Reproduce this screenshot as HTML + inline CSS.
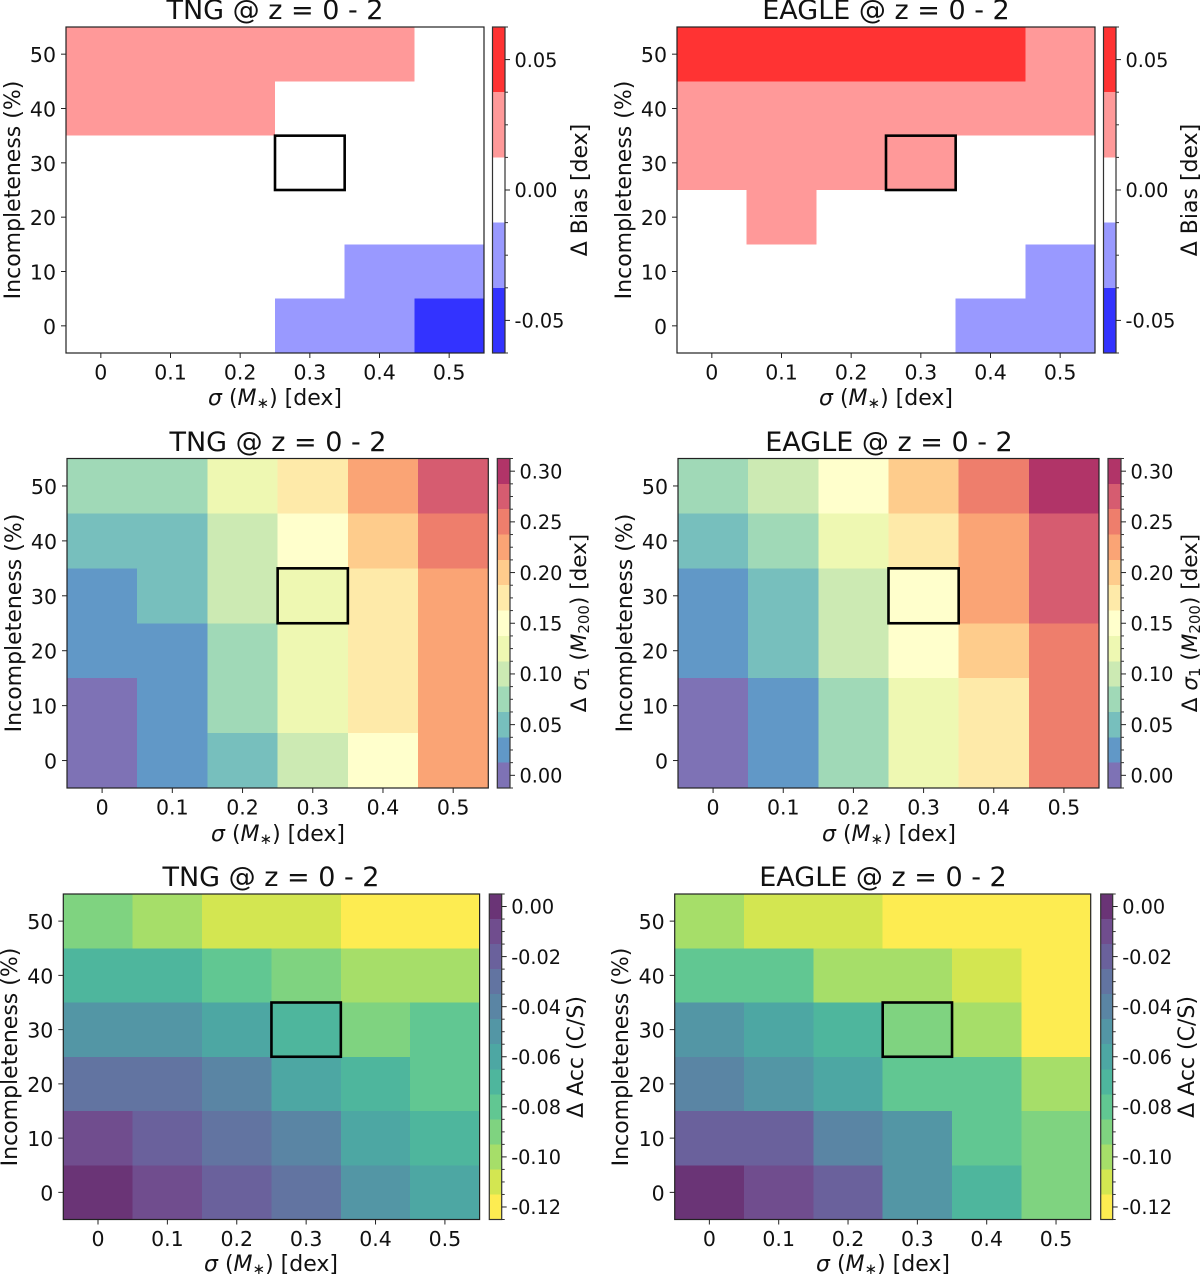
<!DOCTYPE html>
<html>
<head>
<meta charset="utf-8">
<title>Heatmaps of bias, scatter and accuracy</title>
<style>
html,body{margin:0;padding:0;background:#fff;width:1200px;height:1275px;overflow:hidden}
svg{display:block}
text{font-family:"DejaVu Sans","Liberation Sans",sans-serif;fill:#111}
.title{font-size:27px;text-anchor:middle}
.axl{font-size:22px;text-anchor:middle}
.cbl{font-size:22px;text-anchor:middle}
.it{font-style:italic}
</style>
</head>
<body>
<svg id="fig" xmlns="http://www.w3.org/2000/svg" width="1200" height="1275" viewBox="0 0 1200 1275">
  <rect width="1200" height="1275" fill="#fff"/>
  <g id="marks"></g>

  <text class="title" x="275" y="19">TNG @ z = 0 - 2</text>
  <text class="title" x="886" y="19">EAGLE @ z = 0 - 2</text>
  <text class="title" x="278" y="451">TNG @ z = 0 - 2</text>
  <text class="title" x="889" y="451">EAGLE @ z = 0 - 2</text>
  <text class="title" x="271" y="886">TNG @ z = 0 - 2</text>
  <text class="title" x="883" y="886">EAGLE @ z = 0 - 2</text>

  <text class="axl" transform="translate(20,190) rotate(-90)">Incompleteness (%)</text>
  <text class="axl" transform="translate(631,190) rotate(-90)">Incompleteness (%)</text>
  <text class="axl" transform="translate(21,623) rotate(-90)">Incompleteness (%)</text>
  <text class="axl" transform="translate(632,623) rotate(-90)">Incompleteness (%)</text>
  <text class="axl" transform="translate(17,1057) rotate(-90)">Incompleteness (%)</text>
  <text class="axl" transform="translate(628,1057) rotate(-90)">Incompleteness (%)</text>

  <text class="axl" x="275" y="405"><tspan class="it">σ</tspan> (<tspan class="it">M</tspan><tspan font-size="15" dy="3">∗</tspan><tspan dy="-3">) [dex]</tspan></text>
  <text class="axl" x="886" y="405"><tspan class="it">σ</tspan> (<tspan class="it">M</tspan><tspan font-size="15" dy="3">∗</tspan><tspan dy="-3">) [dex]</tspan></text>
  <text class="axl" x="278" y="841"><tspan class="it">σ</tspan> (<tspan class="it">M</tspan><tspan font-size="15" dy="3">∗</tspan><tspan dy="-3">) [dex]</tspan></text>
  <text class="axl" x="889" y="841"><tspan class="it">σ</tspan> (<tspan class="it">M</tspan><tspan font-size="15" dy="3">∗</tspan><tspan dy="-3">) [dex]</tspan></text>
  <text class="axl" x="271" y="1271"><tspan class="it">σ</tspan> (<tspan class="it">M</tspan><tspan font-size="15" dy="3">∗</tspan><tspan dy="-3">) [dex]</tspan></text>
  <text class="axl" x="883" y="1271"><tspan class="it">σ</tspan> (<tspan class="it">M</tspan><tspan font-size="15" dy="3">∗</tspan><tspan dy="-3">) [dex]</tspan></text>

  <text class="cbl" transform="translate(587,190) rotate(-90)">Δ Bias [dex]</text>
  <text class="cbl" transform="translate(1197,190) rotate(-90)">Δ Bias [dex]</text>
  <text class="cbl" transform="translate(586,623) rotate(-90)" font-size="21.5" style="font-size:21.5px">Δ<tspan class="it"> σ</tspan><tspan font-size="15" dy="3">1</tspan><tspan dy="-3"> (</tspan><tspan class="it">M</tspan><tspan font-size="15" dy="3">200</tspan><tspan dy="-3">) [dex]</tspan></text>
  <text class="cbl" transform="translate(1197,623) rotate(-90)" font-size="21.5" style="font-size:21.5px">Δ<tspan class="it"> σ</tspan><tspan font-size="15" dy="3">1</tspan><tspan dy="-3"> (</tspan><tspan class="it">M</tspan><tspan font-size="15" dy="3">200</tspan><tspan dy="-3">) [dex]</tspan></text>
  <text class="cbl" transform="translate(583,1057) rotate(-90)">Δ Acc (C/S)</text>
  <text class="cbl" transform="translate(1194,1057) rotate(-90)">Δ Acc (C/S)</text>
</svg>
<script>
// ---- shared axis categories ----
const scatterCategories = [0, 0.1, 0.2, 0.3, 0.4, 0.5];
const scatterTickLabels = ['0', '0.1', '0.2', '0.3', '0.4', '0.5'];
const incompletenessCategories = [50, 40, 30, 20, 10, 0];
const fiducialScatter = 0.3;
const fiducialIncompleteness = 30;

// ---- colorbar tick values ----
const biasTicks = [-0.05, 0, 0.05];
const sigmaTicks = [0, 0.05, 0.10, 0.15, 0.20, 0.25, 0.30];
const accTicks = [0, -0.02, -0.04, -0.06, -0.08, -0.10, -0.12];

// ---- series values (rows follow incompletenessCategories, columns follow scatterCategories) ----
const biasTng = [
  [0.025, 0.025, 0.025, 0.025, 0.025, 0],
  [0.025, 0.025, 0.025, 0, 0, 0],
  [0, 0, 0, 0, 0, 0],
  [0, 0, 0, 0, 0, 0],
  [0, 0, 0, 0, -0.025, -0.025],
  [0, 0, 0, -0.025, -0.025, -0.05]
];
const biasEagle = [
  [0.05, 0.05, 0.05, 0.05, 0.05, 0.025],
  [0.025, 0.025, 0.025, 0.025, 0.025, 0.025],
  [0.025, 0.025, 0.025, 0.025, 0, 0],
  [0, 0.025, 0, 0, 0, 0],
  [0, 0, 0, 0, 0, -0.025],
  [0, 0, 0, 0, -0.025, -0.025]
];
const sigmaTng = [
  [0.075, 0.075, 0.125, 0.175, 0.225, 0.275],
  [0.05, 0.05, 0.10, 0.15, 0.20, 0.25],
  [0.025, 0.05, 0.10, 0.125, 0.175, 0.225],
  [0.025, 0.025, 0.075, 0.125, 0.175, 0.225],
  [0, 0.025, 0.075, 0.125, 0.175, 0.225],
  [0, 0.025, 0.05, 0.10, 0.15, 0.225]
];
const sigmaEagle = [
  [0.075, 0.10, 0.15, 0.20, 0.25, 0.30],
  [0.05, 0.075, 0.125, 0.175, 0.225, 0.275],
  [0.025, 0.05, 0.10, 0.15, 0.225, 0.275],
  [0.025, 0.05, 0.10, 0.15, 0.20, 0.25],
  [0, 0.025, 0.075, 0.125, 0.175, 0.25],
  [0, 0.025, 0.075, 0.125, 0.175, 0.25]
];
const accTng = [
  [-0.09, -0.10, -0.11, -0.11, -0.12, -0.12],
  [-0.07, -0.07, -0.08, -0.09, -0.10, -0.10],
  [-0.05, -0.05, -0.06, -0.07, -0.09, -0.08],
  [-0.03, -0.03, -0.04, -0.06, -0.07, -0.08],
  [-0.01, -0.02, -0.03, -0.04, -0.06, -0.07],
  [0, -0.01, -0.02, -0.03, -0.05, -0.06]
];
const accEagle = [
  [-0.10, -0.11, -0.11, -0.12, -0.12, -0.12],
  [-0.08, -0.08, -0.10, -0.10, -0.11, -0.12],
  [-0.05, -0.06, -0.07, -0.09, -0.10, -0.12],
  [-0.04, -0.05, -0.06, -0.08, -0.08, -0.10],
  [-0.02, -0.02, -0.04, -0.05, -0.08, -0.09],
  [0, -0.01, -0.02, -0.05, -0.07, -0.09]
];

// ---- colormaps: low value first ----
const bwrColors = ['#3333ff', '#9999ff', '#ffffff', '#ff9999', '#ff3333'];
const spectralColors = ['#7e72b5', '#6198c7', '#77bfbd', '#a0d9b7', '#cceab3', '#eef8b2', '#ffffcc', '#feeaa9', '#fecc8c', '#faa475', '#ee7e6c', '#d65c70', '#b13468'];
const viridisColors = ['#fdec51', '#d3e651', '#a6de69', '#7fd380', '#61c792', '#4eb69d', '#4da7a3', '#5396a5', '#5a85a4', '#6274a1', '#6a619c', '#704d8e', '#6a3476'];

const scales = {
  bias: { vmin: -0.0625, vmax: 0.0625, colors: bwrColors, ticks: biasTicks },
  sigma: { vmin: -0.0125, vmax: 0.3125, colors: spectralColors, ticks: sigmaTicks },
  acc: { vmin: -0.125, vmax: 0.005, colors: viridisColors, ticks: accTicks }
};

const panels = [
  { id: 'bias-tng', values: biasTng, scale: scales.bias, l: 66, r: 484, t: 27, b: 353, cl: 492.5, cr: 505 },
  { id: 'bias-eagle', values: biasEagle, scale: scales.bias, l: 677, r: 1095, t: 27, b: 353, cl: 1103.5, cr: 1116 },
  { id: 'scatter-tng', values: sigmaTng, scale: scales.sigma, l: 67, r: 488.3, t: 458.5, b: 788, cl: 497.3, cr: 510 },
  { id: 'scatter-eagle', values: sigmaEagle, scale: scales.sigma, l: 678, r: 1099, t: 458.5, b: 788, cl: 1108, cr: 1121 },
  { id: 'accuracy-tng', values: accTng, scale: scales.acc, l: 63.3, r: 479.6, t: 894, b: 1219.5, cl: 489.3, cr: 501.7 },
  { id: 'accuracy-eagle', values: accEagle, scale: scales.acc, l: 674.7, r: 1090.7, t: 894, b: 1219.5, cl: 1100.7, cr: 1112.7 }
];

const NS = 'http://www.w3.org/2000/svg';
const root = document.getElementById('marks');

function make(tag, attrs, parent) {
  const el = document.createElementNS(NS, tag);
  for (const k in attrs) el.setAttribute(k, attrs[k]);
  parent.appendChild(el);
  return el;
}

function colorFor(value, scale) {
  const n = scale.colors.length;
  const step = (scale.vmax - scale.vmin) / n;
  const idx = Math.max(0, Math.min(n - 1, Math.floor((value - scale.vmin) / step + 1e-9)));
  return scale.colors[idx];
}

function drawPanel(p) {
  const g = make('g', {}, root);
  
  

  const xScale = v => p.l + (v + 0.05) / 0.6 * (p.r - p.l);
  const yScale = v => p.b - (v + 5) / 60 * (p.b - p.t);

  // heatmap cells
  p.values.forEach((row, i) => {
    const inc = incompletenessCategories[i];
    row.forEach((val, j) => {
      const sc = scatterCategories[j];
      const cell = make('rect', {
        x: xScale(sc - 0.05), y: yScale(inc + 5),
        width: xScale(sc + 0.05) - xScale(sc - 0.05),
        height: yScale(inc - 5) - yScale(inc + 5),
        fill: colorFor(val, p.scale),
        'shape-rendering': 'crispEdges'
      }, g);
      
      
    });
  });

  // fiducial highlight box
  const box = make('rect', {
    x: xScale(fiducialScatter - 0.05), y: yScale(fiducialIncompleteness + 5),
    width: xScale(fiducialScatter + 0.05) - xScale(fiducialScatter - 0.05),
    height: yScale(fiducialIncompleteness - 5) - yScale(fiducialIncompleteness + 5),
    fill: 'none', stroke: '#000', 'stroke-width': 2.6
  }, g);
  
  

  // axes frame
  const frame = make('rect', {
    x: p.l, y: p.t, width: p.r - p.l, height: p.b - p.t,
    fill: 'none', stroke: '#222', 'stroke-width': 1.2
  }, g);
  
  

  // x ticks
  scatterCategories.forEach((sc, j) => {
    const x = xScale(sc);
    const tick = make('line', { x1: x, x2: x, y1: p.b, y2: p.b + 5, stroke: '#222', 'stroke-width': 1 }, g);
    
    
    const lab = make('text', { x: x, y: p.b + 26.5, 'text-anchor': 'middle', 'font-size': 20.5 }, g);
    lab.textContent = scatterTickLabels[j];
    
    
  });

  // y ticks
  incompletenessCategories.forEach(inc => {
    const y = yScale(inc);
    const tick = make('line', { x1: p.l - 5, x2: p.l, y1: y, y2: y, stroke: '#222', 'stroke-width': 1 }, g);
    
    
    const lab = make('text', { x: p.l - 10, y: y + 8, 'text-anchor': 'end', 'font-size': 20.5 }, g);
    lab.textContent = String(inc);
    
    
  });

  // colorbar
  const s = p.scale;
  const n = s.colors.length;
  const step = (s.vmax - s.vmin) / n;
  const cY = v => p.b - (v - s.vmin) / (s.vmax - s.vmin) * (p.b - p.t);
  s.colors.forEach((c, k) => {
    const lo = s.vmin + k * step;
    const seg = make('rect', {
      x: p.cl, y: cY(lo + step), width: p.cr - p.cl, height: cY(lo) - cY(lo + step),
      fill: c, 'shape-rendering': 'crispEdges'
    }, g);
    
    
  });
  const cbFrame = make('rect', {
    x: p.cl, y: p.t, width: p.cr - p.cl, height: p.b - p.t,
    fill: 'none', stroke: '#333', 'stroke-width': 1.2
  }, g);
  
  

  for (let k = 0; k <= 2 * n; k++) {
    const v = s.vmin + k * step / 2;
    if (s.ticks.some(t => Math.abs(t - v) < 1e-6)) continue;
    const minor = make('line', { x1: p.cr, x2: p.cr + 3, y1: cY(v), y2: cY(v), stroke: '#333', 'stroke-width': 1 }, g);
    
    
  }
  s.ticks.forEach(t => {
    const y = cY(t);
    const major = make('line', { x1: p.cr, x2: p.cr + 5, y1: y, y2: y, stroke: '#222', 'stroke-width': 1 }, g);
    
    
    const lab = make('text', { x: p.cr + 9.5, y: y + 7.2, 'font-size': 19.3 }, g);
    lab.textContent = t.toFixed(2);
    
    
  });
}

panels.forEach(drawPanel);
</script>
</body>
</html>
